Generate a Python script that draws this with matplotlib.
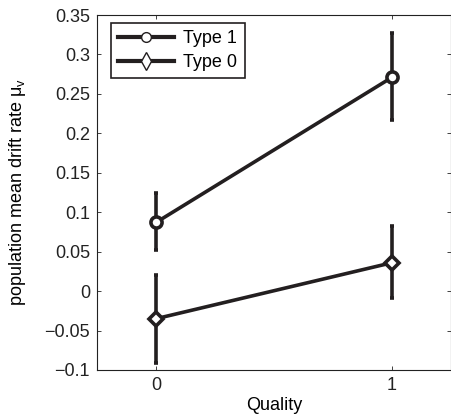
import numpy as np
import matplotlib
matplotlib.use("Agg")
import matplotlib.pyplot as plt
from matplotlib.lines import Line2D

plt.rcParams['font.family'] = ['Liberation Sans', 'DejaVu Sans']
plt.rcParams['font.size'] = 13
plt.rcParams['mathtext.fontset'] = 'custom'
plt.rcParams['mathtext.rm'] = 'Liberation Sans'

quality = [0, 1]
type1_mean = [0.087, 0.271]
type1_low = [0.052, 0.217]
type1_high = [0.124, 0.327]
type0_mean = [-0.035, 0.036]
type0_low = [-0.091, -0.009]
type0_high = [0.021, 0.082]

col = '#231f20'

fig = plt.figure(figsize=(4.52, 4.2), dpi=100)
ax = fig.add_axes([97/452, 50/420, 354/452, 355/420])

def draw(mean, low, high, marker, ms):
    mean = np.array(mean)
    err = [mean - np.array(low), np.array(high) - mean]
    ax.errorbar(quality, mean, yerr=err, color=col, lw=2.6, elinewidth=2.6,
                capsize=1.2, capthick=2.6, marker=marker, markersize=ms,
                markeredgewidth=2.6, markerfacecolor='white', markeredgecolor=col)

draw(type1_mean, type1_low, type1_high, 'o', 8)
draw(type0_mean, type0_low, type0_high, 'D', 7)

ax.set_xlim(-0.25, 1.25)
ax.set_ylim(-0.1, 0.35)
ax.set_xticks([0, 1])
ax.set_yticks(np.arange(-0.1, 0.351, 0.05))
ax.set_yticklabels(['\u22120.1', '\u22120.05', '0', '0.05', '0.1', '0.15', '0.2', '0.25', '0.3', '0.35'])
ax.tick_params(direction='in', top=True, right=True, length=3, width=0.6, pad=5, colors='#222222')
ax.tick_params(labelcolor='#222222')
for s in ax.spines.values():
    s.set_linewidth(0.8)
    s.set_color('#222222')

ax.set_xlabel('Quality', labelpad=2)
ax.set_ylabel('population mean drift rate μ$_\\mathregular{v}$', labelpad=12)

handles = [
    Line2D([], [], color=col, lw=3, marker='o', markersize=7, markeredgewidth=1,
           markerfacecolor='white', markeredgecolor=col),
    Line2D([], [], color=col, lw=3, marker='d', markersize=9, markeredgewidth=1,
           markerfacecolor='white', markeredgecolor=col),
]
leg = ax.legend(handles, ['Type 1', 'Type 0'], loc='upper left', bbox_to_anchor=(0.04, 0.978),
                fancybox=False, framealpha=1, edgecolor=col, handlelength=3.1,
                borderpad=0.4, labelspacing=0.4, handletextpad=0.5, borderaxespad=0)
leg.get_frame().set_linewidth(1.2)

fig.savefig('out.png', dpi=100)
